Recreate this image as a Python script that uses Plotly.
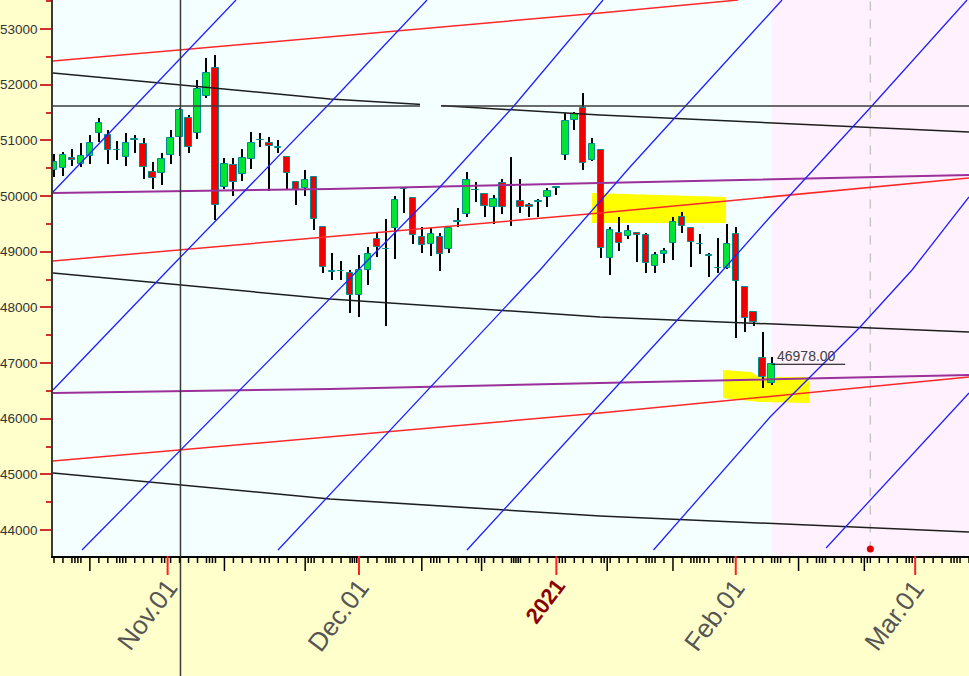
import plotly.graph_objects as go
import pandas as pd

# ---------------- data ----------------
first_session = "2020-10-14"
extra_sessions = ["2020-11-14"]                      # Saturday muhurat session
holidays = ["2020-11-30", "2020-12-25", "2021-01-26"]

opens = [50467, 50503, 50683, 50575, 50719, 51132, 51096, 50827, 50701, 51006,
         50934, 50431, 50413, 50737, 51060, 51401, 51132, 51797, 52300, 50162,
         50557, 50395, 50665, 51006, 50952, 50862, 50701, 50252, 50144, 50342,
         49443, 48635, 48662, 48617, 48222, 48671, 49228, 49040, 49425, 50126,
         49964, 49264, 49138, 49264, 49048, 49533, 49677, 50100, 50036, 49803,
         50234, 50198, 49910, 49839, 49892, 49982, 50144, 50737, 51365, 51581,
         50647, 50827, 48887, 49336, 49282, 49336, 49300, 48743, 48958, 49156,
         49623, 49425, 49130, 48941, 48715, 48707, 49318, 48366, 47917, 47090,
         46641]
highs = [50755, 50791, 50845, 50952, 51096, 51401, 51186, 50988, 51132, 51096,
         51042, 50611, 50773, 51186, 51581, 51455, 52084, 52479, 52533, 50683,
         50683, 50845, 51150, 51132, 51060, 51006, 50719, 50270, 50467, 50360,
         49461, 48976, 48833, 48671, 48941, 49084, 49336, 49587, 50000, 50150,
         49982, 49443, 49425, 49336, 49443, 49785, 50431, 50252, 50036, 50018,
         50306, 50701, 50306, 49875, 49946, 50144, 50180, 51491, 51509, 51850,
         51042, 50827, 49443, 49623, 49479, 49336, 49336, 48994, 49066, 49623,
         49713, 49425, 49318, 48976, 49246, 49497, 49443, 48366, 47917, 47557,
         47108]
lows = [50342, 50360, 50539, 50521, 50575, 50970, 50575, 50647, 50539, 50773,
        50306, 50126, 50198, 50575, 50719, 50773, 51024, 51761, 49569, 50126,
        50000, 50270, 50485, 50880, 50090, 50773, 50126, 49839, 50000, 49390,
        48617, 48491, 48491, 47899, 47827, 48402, 48905, 47665, 48869, 49695,
        49138, 48976, 48923, 48653, 48976, 49443, 49623, 49892, 49623, 49497,
        49677, 49461, 49695, 49623, 49623, 49803, 50018, 50647, 51186, 50467,
        50629, 48887, 48581, 49012, 49228, 48815, 48617, 48617, 48797, 48851,
        49336, 48725, 48958, 48545, 48617, 48689, 47450, 47557, 47665, 46551,
        46605]
closes = [50611, 50737, 50647, 50719, 50952, 51312, 50827, 50827, 50952, 51024,
          50521, 50324, 50665, 51042, 51545, 50880, 51922, 52210, 49839, 50575,
          50252, 50683, 50952, 51006, 50898, 50880, 50413, 50108, 50288, 49587,
          48725, 48653, 48662, 48222, 48671, 48958, 49084, 49040, 49928, 50144,
          49300, 49120, 49318, 48958, 49425, 49551, 50288, 50100, 49821, 49946,
          49803, 50180, 49803, 49803, 49910, 50090, 50162, 51347, 51473, 50593,
          50934, 49066, 49390, 49156, 49372, 49300, 48797, 48941, 49012, 49533,
          49461, 49174, 49130, 48923, 48715, 49138, 48473, 47809, 47736, 46749,
          46978]

# trend lines: anchor sessions (x) and prices
trend_x = [-0.11, 30.77, 60.87, 102.0]
red_top_x = [-0.11, 30.77, 60.87, 76.26]
red_top = [52425, 52856, 53287, 53521]
red_mid = [48833, 49264, 49695, 50324]
red_low = [45240, 45671, 46102, 46749]
black_top = [52210, 51743, 51455, 51150]
black_mid = [48617, 48150, 47827, 47557]
black_low = [45025, 44558, 44252, 43964]
purple_top = [50054, 50126, 50234, 50378]
purple_low = [46462, 46534, 46641, 46785]

blue_x = [[-0.11, 20.29],
          [-0.11, 12.71, 30.77, 41.58],
          [3.12, 33.89, 43.03, 51.17, 61.20],
          [24.97, 54.18, 64.21, 81.16],
          [46.04, 60.87, 74.58, 79.82, 90.97, 101.78],
          [66.83, 79.82, 89.86, 95.65, 102.0],
          [86.07, 102.0]]
blue_y = [[50072, 53521],
          [46515, 48671, 51671, 53521],
          [43641, 48671, 50162, 51599, 53521],
          [43641, 48671, 50521, 53521],
          [43641, 46246, 48671, 49623, 51581, 53521],
          [43641, 46030, 47647, 48671, 49982],
          [43677, 46462]]

h_level = 51617
crosshair_x = 14.1
future_start = 80
event_x = 91
event_price = 43659
last_label = "46978.00"
last_price = 46978
label_line_end = 88.2

hl_upper_x = [59.98, 74.92, 74.92, 59.98]
hl_upper_y = [50054, 49982, 49515, 49515]
hl_lower_x = [74.58, 77.70, 78.60, 84.17, 84.17, 78.60, 74.58]
hl_lower_y = [46875, 46839, 46749, 46749, 46282, 46300, 46372]
gap_x = [40.8, 43.15]
gap_y = [51509, 51725]

month_labels = ["Nov.01", "Dec.01", "<b>2021</b>", "Feb.01", "Mar.01"]

X_RANGE = [-0.11, 102.0]
Y_RANGE = [43534, 53521]

# ---------------- sessions / calendar ----------------
sessions = pd.bdate_range(first_session, "2021-03-31")
sessions = sessions.union(pd.DatetimeIndex(extra_sessions)).difference(pd.DatetimeIndex(holidays))
sess = list(sessions)
pos = {d: k for k, d in enumerate(sess)}


def cal_pos(d):
    if d in pos:
        return float(pos[d])
    prev = max(s for s in sess if s < d)
    nxt = min(s for s in sess if s > d)
    return pos[prev] + (d - prev).days / (nxt - prev).days


n = len(opens)
xk = list(range(n))

fig = go.Figure()

# wicks
fig.add_trace(go.Bar(x=xk, base=lows, y=[h - l for h, l in zip(highs, lows)],
                     width=0.12, marker=dict(color="#000000", line=dict(width=0)),
                     hoverinfo="skip", showlegend=False))
# bodies
body_col = ["#00E436" if c >= o else "#F00000" for o, c in zip(opens, closes)]
fig.add_trace(go.Bar(x=xk, base=[min(o, c) for o, c in zip(opens, closes)],
                     y=[abs(c - o) for o, c in zip(opens, closes)],
                     width=0.72, marker=dict(color=body_col, line=dict(color="#008C8C", width=1)),
                     hoverinfo="skip", showlegend=False))


def add_line(xs, ys, color, width):
    fig.add_trace(go.Scatter(x=xs, y=ys, mode="lines", line=dict(color=color, width=width),
                             hoverinfo="skip", showlegend=False))


for ys in (purple_top, purple_low):
    add_line(trend_x, ys, "#9B309B", 2)
add_line(red_top_x, red_top, "#FF2828", 1.5)
for ys in (red_mid, red_low):
    add_line(trend_x, ys, "#FF2828", 1.5)
for ys in (black_top, black_mid, black_low):
    add_line(trend_x, ys, "#1E1E1E", 1.5)
for bx, by in zip(blue_x, blue_y):
    add_line(bx, by, "#2020FF", 1.3)

# last price marker line
add_line([n - 1, label_line_end], [last_price, last_price], "#000000", 1)
# event dot
fig.add_trace(go.Scatter(x=[event_x], y=[event_price], mode="markers",
                         marker=dict(color="#E00000", size=7, symbol="circle"),
                         hoverinfo="skip", showlegend=False, cliponaxis=False))

shapes = []
# future background
shapes.append(dict(type="rect", xref="x", yref="paper", x0=future_start, x1=X_RANGE[1] + 1,
                   y0=0, y1=1, fillcolor="#FFF1FD", line=dict(width=0), layer="below"))


def poly(xs, ys):
    return "M " + " L ".join(f"{a},{b}" for a, b in zip(xs, ys)) + " Z"


for hx, hy in ((hl_upper_x, hl_upper_y), (hl_lower_x, hl_lower_y)):
    shapes.append(dict(type="path", xref="x", yref="y", path=poly(hx, hy),
                       fillcolor="#FFFF00", line=dict(width=0), layer="below"))

shapes.append(dict(type="line", xref="x", yref="paper", x0=event_x, x1=event_x, y0=0.01, y1=1,
                   line=dict(color="#C8C8C8", width=1.5, dash="dash"), layer="below"))
# horizontal level
shapes.append(dict(type="line", xref="paper", yref="y", x0=0, x1=1, y0=h_level, y1=h_level,
                   line=dict(color="#3C3C3C", width=1.5), layer="above"))
shapes.append(dict(type="rect", xref="x", yref="y", x0=gap_x[0], x1=gap_x[1], y0=gap_y[0], y1=gap_y[1],
                   fillcolor="#F4FFFF", line=dict(width=0), layer="above"))
# crosshair vertical
shapes.append(dict(type="line", xref="x", yref="paper", x0=crosshair_x, x1=crosshair_x,
                   y0=-0.3, y1=1, line=dict(color="#3A3A3A", width=1.5), layer="above"))

# calendar ticks
PLOT_H = 556.0
days = pd.date_range("2020-10-14", "2021-03-12")
month_pos = []
for d in days:
    xp = cal_pos(d)
    if xp < X_RANGE[0] or xp > X_RANGE[1]:
        continue
    if d.day == 1:
        ln, col, w = 19, "#FF2020", 2
        month_pos.append(xp)
    elif d.day in (10, 20):
        ln, col, w = 15, "#000000", 1.5
    else:
        ln, col, w = 7, "#000000", 1.5
    shapes.append(dict(type="line", xref="x", yref="paper", x0=xp, x1=xp, y0=0, y1=-ln / PLOT_H,
                       line=dict(color=col, width=w), layer="above"))

annotations = []
for xp, txt in zip(month_pos, month_labels):
    is_year = "2021" in txt
    col = "#8B0000" if is_year else "#555555"
    annotations.append(dict(x=xp, y=-15 / PLOT_H, xref="x", yref="paper", text=txt,
                            showarrow=False, textangle=-53, xanchor="right", yanchor="top",
                            xshift=18 if not is_year else 17,
                            font=dict(family="Arial", size=22 if is_year else 26, color=col)))
annotations.append(dict(x=n - 1 + 0.35, y=last_price, xref="x", yref="y", text=last_label,
                        showarrow=False, xanchor="left", yanchor="bottom", yshift=-2,
                        font=dict(family="Arial", size=14, color="#404040")))

fig.update_layout(
    width=969, height=676,
    margin=dict(l=53, r=0, t=0, b=120, pad=0),
    paper_bgcolor="#FFFFCC", plot_bgcolor="#F4FFFF",
    barmode="overlay", bargap=0, showlegend=False,
    shapes=shapes, annotations=annotations,
    xaxis=dict(range=X_RANGE, showgrid=False, zeroline=False, showticklabels=False,
               ticks="", showline=True, linecolor="#000000", linewidth=1.5, automargin=False,
               fixedrange=True),
    yaxis=dict(range=Y_RANGE, showgrid=False, zeroline=False, tick0=0, dtick=1000,
               tickformat="d",
               ticks="outside", ticklen=11, tickwidth=2, tickcolor="#D03030",
               tickfont=dict(family="Arial", size=13.5, color="#333333"),
               showline=True, linecolor="#3A3A3A", linewidth=1.5, automargin=False,
               minor=dict(dtick=500, ticks="outside", ticklen=5, tickwidth=2, tickcolor="#D03030"),
               fixedrange=True),
)

fig.write_html("out.html", config={"displayModeBar": False},
               post_script="document.body.style.margin='0px';document.body.style.overflow='hidden';")
